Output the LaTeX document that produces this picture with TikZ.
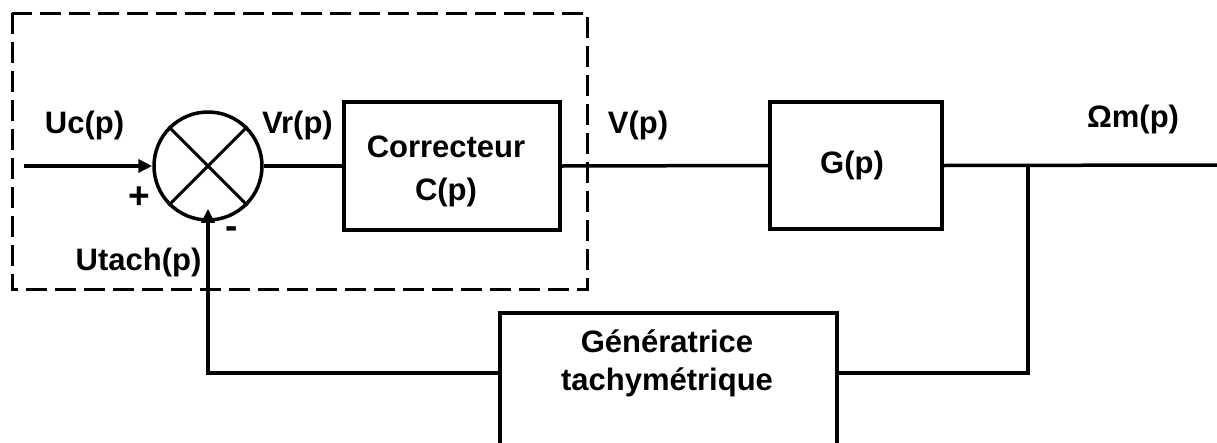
\documentclass[tikz,border=0pt]{standalone}
\usepackage{fontspec}
\setmainfont{Liberation Sans}
\usetikzlibrary{arrows.meta,calc}
\begin{document}
\begin{tikzpicture}[x=1pt,y=-1pt,
  line/.style={line width=3.5pt},
  blk/.style={draw,line width=3.5pt,rectangle,inner sep=0pt},
  lbl/.style={font=\fontsize{31}{37}\selectfont\bfseries,inner sep=0pt,anchor=base},
  sgn/.style={font=\fontsize{37}{40}\selectfont\bfseries,inner sep=0pt,anchor=center},
  arr/.style={-{Triangle[length=14pt,width=13pt]}},
  dbox/.style={draw,line width=3pt,dash pattern=on 21pt off 8pt}]
\useasboundingbox (0,0) rectangle (1217,442);
% dashed frame
\draw[dbox] (12,13) rectangle (587,289);
% summing junction
\node[draw,circle,line width=3.5pt,minimum size=108pt,inner sep=0pt] (sum) at (208,166) {};
\draw[line width=3pt] (sum.north west) -- (sum.south east)
                      (sum.north east) -- (sum.south west);
% blocks
\node[blk,minimum width=216pt,minimum height=128pt] (corr) at (452,166) {};
\node[lbl] (corrA) at (446,157) {Correcteur};
\node[lbl] (corrB) at (446,200) {C(p)};
\node[blk,minimum width=172pt,minimum height=127pt] (G) at (856,165.5) {};
\node[lbl] (gp) at (852,173) {G(p)};
\node[blk,minimum width=337pt,minimum height=200pt] (gen) at (668.5,413) {};
\node[lbl] (genA) at (667,352) {Génératrice};
\node[lbl] (genB) at (667,390) {tachymétrique};
% coordinates
\coordinate (in) at (24,166);
\coordinate (out) at (1217,165);
\coordinate (br) at (1028,165);
\coordinate (fbR) at (1028,373);
\coordinate (fbL) at (208,373);
% connectors
\draw[line,arr] (in) -- (sum.west);
\draw[line] (sum.east) -- (corr.west);
\draw[line] (corr.east) -- (G.west);
\draw[line] (G.east) -- (out);
\draw[line] (br) -- (fbR) -- (fbR -| gen.east);
\draw[line,arr,shorten >=-13pt] (fbL -| gen.west) -- (fbL) -- (sum.south);
% labels
\node[lbl] (uc) at (84.5,133) {Uc(p)};
\node[lbl] (vr) at (297.5,133) {Vr(p)};
\node[lbl] (v) at (638,133) {V(p)};
\node[lbl] (om) at (1133,127) {Ωm(p)};
\node[lbl] (ut) at (138.5,270) {Utach(p)};
\node[sgn] (plus) at (139,198) {+};
\node[sgn] (minus) at (232,233) {-};
\end{tikzpicture}
\end{document}
